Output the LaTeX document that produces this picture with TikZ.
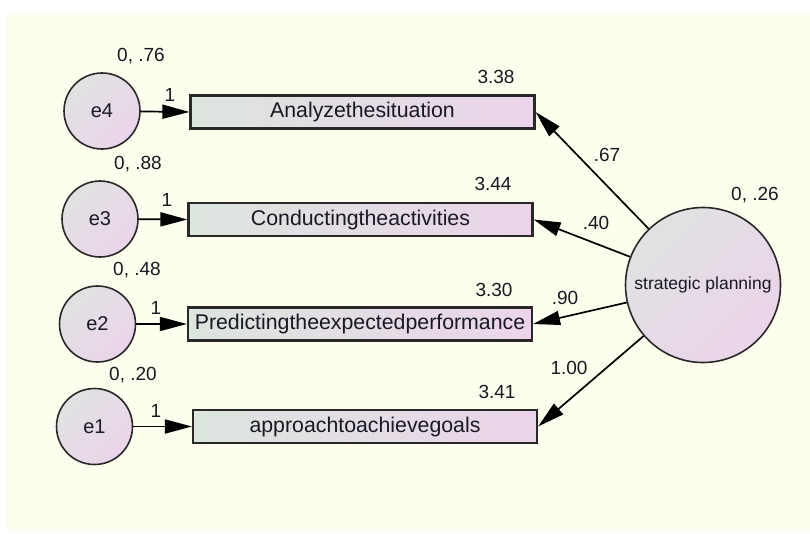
\documentclass[tikz,border=0pt]{standalone}
\usepackage{fontspec}
\setmainfont{Liberation Sans}
\usetikzlibrary{arrows.meta,shapes.geometric}

\definecolor{paper}{RGB}{253,254,238}
\definecolor{edge}{RGB}{40,40,40}
\definecolor{greyend}{RGB}{224,226,226}
\definecolor{pinkend}{RGB}{235,212,234}
\definecolor{greenend}{RGB}{220,229,222}
\definecolor{inkc}{RGB}{25,25,35}

\tikzset{
  errc/.style={circle, draw=edge, line width=1.6pt, minimum size=76pt, inner sep=0pt,
    top color=greyend, bottom color=pinkend, shading angle=45,
    font=\fontsize{20}{24}\selectfont, text=inkc},
  latentc/.style={circle, draw=edge, line width=1.6pt, minimum size=155pt, inner sep=0pt,
    top color=greyend, bottom color=pinkend, shading angle=45,
    font=\fontsize{17.5}{20}\selectfont, text=inkc},
  obsbox/.style={rectangle, draw=edge, line width=2.2pt, minimum width=344pt, minimum height=33pt,
    inner sep=0pt, left color=greenend, right color=pinkend,
    font=\fontsize{21.3}{25}\selectfont, text=inkc},
  est/.style={font=\fontsize{19}{22}\selectfont, text=inkc, inner sep=0pt},
  path/.style={draw=black, line width=1.7pt, -{Triangle[length=27pt,width=14pt]}},
}

\begin{document}
\begin{tikzpicture}[x=1pt,y=-1pt]
  \useasboundingbox (0,0) rectangle (810,533);
  % canvas
  \fill[white] (0,0) rectangle (810,533);
  \fill[paper] (6,13) rectangle (810,531);

  % error terms
  \node[errc] (e4) at (102,111) {e4};
  \node[errc] (e3) at (100,219) {e3};
  \node[errc] (e2) at (97.5,324) {e2};
  \node[errc] (e1) at (94.5,426.5) {e1};

  % observed indicators
  \node[obsbox] (b1) at (362.5,112) {Analyzethesituation};
  \node[obsbox] (b2) at (360.5,219.5) {Conductingtheactivities};
  \node[obsbox] (b3) at (360,324) {Predictingtheexpectedperformance};
  \node[obsbox] (b4) at (365,426.5) {approachtoachievegoals};

  % latent factor
  \node[latentc] (sp) at (703,285) {strategic planning};

  % error paths
  \draw[path] (e4) -- (b1.west);
  \draw[path] (e3) -- (b2.west);
  \draw[path] (e2) -- (b3.west);
  \draw[path] (e1) -- (b4.west);

  % loadings
  \draw[path] (sp) -- (b1.east);
  \draw[path] (sp) -- (b2.east);
  \draw[path] (sp) -- (b3.east);
  \draw[path] (sp) -- (b4.east);

  % variance estimates
  \node[est] (v4) at (141,56) {0, .76};
  \node[est] (v3) at (138,164) {0, .88};
  \node[est] (v2) at (137,270) {0, .48};
  \node[est] (v1) at (133,375) {0, .20};
  \node[est] (vsp) at (755,195) {0, .26};

  % intercepts
  \node[est] (i1) at (496,77) {3.38};
  \node[est] (i2) at (493,184) {3.44};
  \node[est] (i3) at (494,290) {3.30};
  \node[est] (i4) at (497,392) {3.41};

  % fixed error weights
  \node[est] (w4) at (170,95) {1};
  \node[est] (w3) at (167,200) {1};
  \node[est] (w2) at (156,308) {1};
  \node[est] (w1) at (156,411) {1};

  % factor loadings
  \node[est] (l1) at (607,155) {.67};
  \node[est] (l2) at (596,223) {.40};
  \node[est] (l3) at (565,298) {.90};
  \node[est] (l4) at (569,368) {1.00};
\end{tikzpicture}
\end{document}
